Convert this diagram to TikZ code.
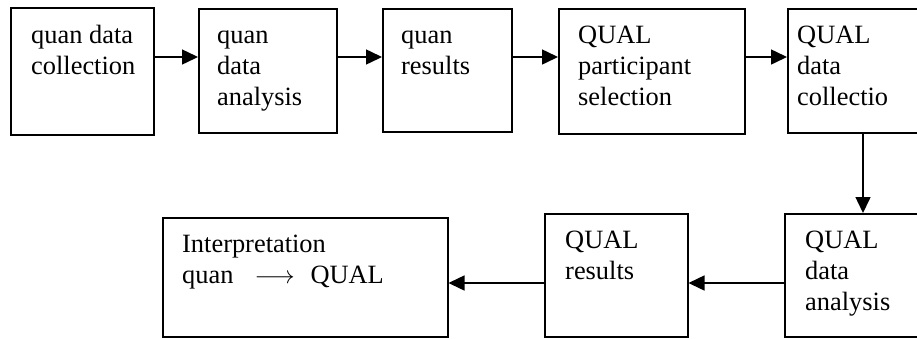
\documentclass[tikz,border=0pt]{standalone}
\usepackage{fontspec}
\setmainfont{Liberation Serif}
\usetikzlibrary{arrows.meta}
\tikzset{
  boxstyle/.style={draw=black, line width=1.5pt, anchor=north west, inner sep=0pt},
  txt/.style={anchor=north west, inner sep=0pt, align=left, font=\fontsize{26.4}{31}\selectfont},
  flow/.style={line width=1.5pt, -{Triangle[length=16pt,width=15pt]}},
}
\begin{document}
\begin{tikzpicture}[x=1pt,y=-1pt]
\clip (0,0) rectangle (917,338);
\fill[white] (0,0) rectangle (917,338);
% boxes
\node[boxstyle, minimum width=143pt, minimum height=127pt] (b1) at (10,7) {};
\node[boxstyle, minimum width=138pt, minimum height=124pt] (b2) at (198,8) {};
\node[boxstyle, minimum width=129pt, minimum height=123pt] (b3) at (382,8) {};
\node[boxstyle, minimum width=186pt, minimum height=125pt] (b4) at (558,8) {};
\node[boxstyle, minimum width=150pt, minimum height=124pt] (b5) at (787,8) {};
\node[boxstyle, minimum width=150pt, minimum height=123pt] (b6) at (784,213) {};
\node[boxstyle, minimum width=143pt, minimum height=123pt] (b7) at (544,213) {};
\node[boxstyle, minimum width=285pt, minimum height=119pt] (b8) at (162,217) {};
% texts
\node[txt] (t1) at (31,22) {\strut quan data\\collection};
\node[txt] (t2) at (217,22) {\strut quan\\data\\analysis};
\node[txt] (t3) at (401,22) {\strut quan\\results};
\node[txt] (t4) at (578,22) {\strut QUAL\\participant\\selection};
\node[txt] (t5) at (797,22) {\strut QUAL\\data\\collectio};
\node[txt] (t6) at (805,227) {\strut QUAL\\data\\analysis};
\node[txt] (t7) at (565,227) {\strut QUAL\\results};
\node[txt] (t8) at (182,231) {\strut Interpretation\\quan\hspace{0.8em}$\longrightarrow$\hspace{0.6em}QUAL};
% helper coordinates
\coordinate (top) at (0,57);
\coordinate (bot) at (0,283);
\coordinate (vx) at (863,0);
% connectors
\draw[flow] (b1.east |- top) -- (b2.west |- top);
\draw[flow] (b2.east |- top) -- (b3.west |- top);
\draw[flow] (b3.east |- top) -- (b4.west |- top);
\draw[flow] (b4.east |- top) -- (b5.west |- top);
\draw[flow] (vx |- b5.south) -- (vx |- b6.north);
\draw[flow] (b6.west |- bot) -- (b7.east |- bot);
\draw[flow] (b7.west |- bot) -- (b8.east |- bot);
\end{tikzpicture}
\end{document}
